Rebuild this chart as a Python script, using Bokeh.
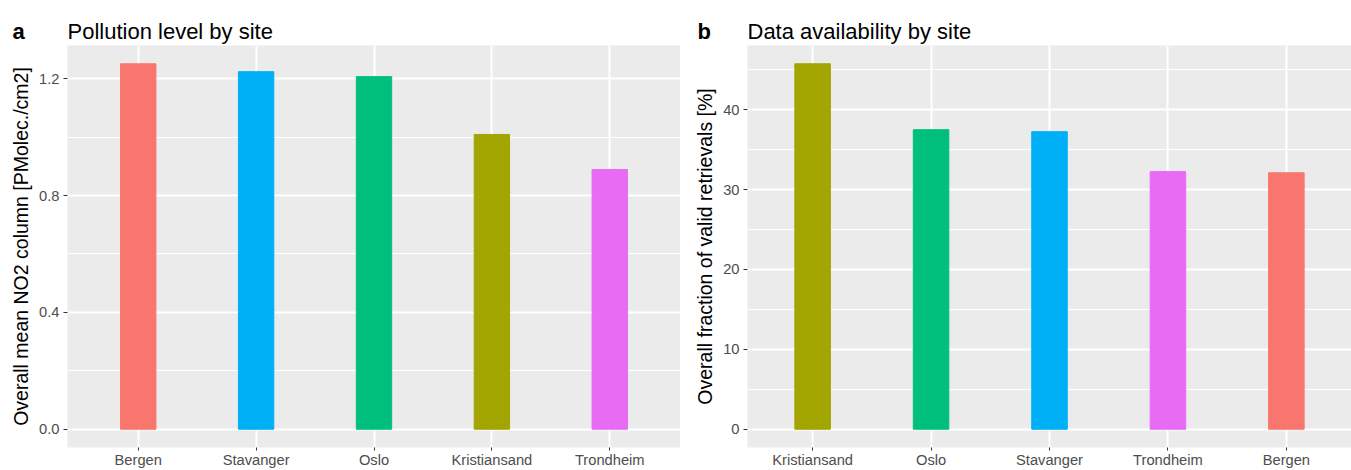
from bokeh.plotting import figure
from bokeh.models import FactorRange, Range1d, FixedTicker, Label, ColumnDataSource
from bokeh.layouts import row, column
from bokeh.embed import file_html
from bokeh.resources import INLINE

# ---- data ----
sites_a = ["Bergen", "Stavanger", "Oslo", "Kristiansand", "Trondheim"]
no2_a = [1.251, 1.224, 1.207, 1.009, 0.889]

sites_b = ["Kristiansand", "Oslo", "Stavanger", "Trondheim", "Bergen"]
avail_b = [45.75, 37.5, 37.25, 32.25, 32.1]

site_colors = {
    "Bergen": "#F8766D",
    "Kristiansand": "#A3A500",
    "Oslo": "#00BF7D",
    "Stavanger": "#00B0F6",
    "Trondheim": "#E76BF3",
}

ticks_a = [0.0, 0.4, 0.8, 1.2]
minor_a = [0.2, 0.6, 1.0]
ticks_b = [0, 10, 20, 30, 40]
minor_b = [5, 15, 25, 35, 45]

titles = ["Pollution level by site", "Data availability by site"]
letters = ["a", "b"]

FONT = "Liberation Sans"
HEAD = 45
H = 470 - HEAD


def make_panel(ylabel, cats, vals, ticks, minor, tick_fmt, width, mbl, mbr, pad):
    vmax = max(vals)
    span = vmax - 0
    y0, y1 = 0 - 0.05 * span, vmax + 0.05 * span
    p = figure(width=width, height=H, output_backend="svg", toolbar_location=None,
               x_range=FactorRange(*cats, range_padding=pad, range_padding_units="absolute"),
               y_range=Range1d(y0, y1),
               min_border_left=mbl, min_border_right=mbr, min_border_top=0,
               min_border_bottom=22)
    p.background_fill_color = "#EBEBEB"
    p.border_fill_color = "white"
    p.outline_line_color = None

    src = ColumnDataSource(dict(x=cats, top=vals, color=[site_colors[c] for c in cats]))
    p.vbar(x="x", top="top", bottom=0, width=0.3, color="color", source=src)

    p.yaxis.ticker = FixedTicker(ticks=ticks, minor_ticks=minor)
    p.yaxis.major_label_overrides = {t: tick_fmt(t) for t in ticks}
    p.ygrid.grid_line_color = "white"
    p.ygrid.grid_line_width = 2
    p.ygrid.minor_grid_line_color = "white"
    p.ygrid.minor_grid_line_width = 1
    p.xgrid.grid_line_color = "white"
    p.xgrid.grid_line_width = 2

    for ax in (p.xaxis, p.yaxis):
        ax.axis_line_color = None
        ax.major_tick_line_color = "#333333"
        ax.major_tick_line_width = 1
        ax.major_tick_in = 0
        ax.minor_tick_line_color = None
        ax.major_label_text_font = FONT
        ax.major_label_text_font_size = "14.7px"
        ax.major_label_text_color = "#4D4D4D"
    p.xaxis.major_tick_out = 3
    p.xaxis.major_label_standoff = 1
    p.yaxis.major_tick_out = 4
    p.yaxis.major_label_standoff = 4
    p.yaxis.axis_label = ylabel
    p.yaxis.axis_label_text_font = FONT
    p.yaxis.axis_label_text_font_size = "19.5px"
    p.yaxis.axis_label_text_font_style = "normal"
    p.yaxis.axis_label_text_color = "black"
    p.yaxis.axis_label_standoff = 4
    return p


# header strip carrying panel letters and titles
head = figure(width=1351, height=HEAD, output_backend="svg", toolbar_location=None,
              x_range=Range1d(0, 1351), y_range=Range1d(0, HEAD),
              x_axis_type=None, y_axis_type=None, min_border=0)
head.outline_line_color = None
head.background_fill_color = "white"
head.border_fill_color = "white"
head.xgrid.visible = False
head.ygrid.visible = False
base = HEAD - 31
for lx, tx, letter, title in [(12, 67, letters[0], titles[0]), (697, 747, letters[1], titles[1])]:
    head.add_layout(Label(x=lx, y=base, x_units="screen", y_units="screen", text=letter,
                          text_font=FONT, text_font_size="22px", text_font_style="bold",
                          text_color="black", text_baseline="alphabetic", text_align="left"))
    head.add_layout(Label(x=tx, y=base, x_units="screen", y_units="screen", text=title,
                          text_font=FONT, text_font_size="22px", text_font_style="normal",
                          text_color="black", text_baseline="alphabetic", text_align="left"))

pa = make_panel("Overall mean NO2 column [PMolec./cm2]",
                sites_a, no2_a, ticks_a, minor_a, lambda t: f"{t:.1f}",
                width=680, mbl=67, mbr=0, pad=0.1)
pb = make_panel("Overall fraction of valid retrievals [%]",
                sites_b, avail_b, ticks_b, minor_b, lambda t: f"{t:d}",
                width=671, mbl=67, mbr=0, pad=0.05)

layout = column(head, row(pa, pb, spacing=0), spacing=0)
open("out.html", "w").write(file_html(layout, INLINE))
